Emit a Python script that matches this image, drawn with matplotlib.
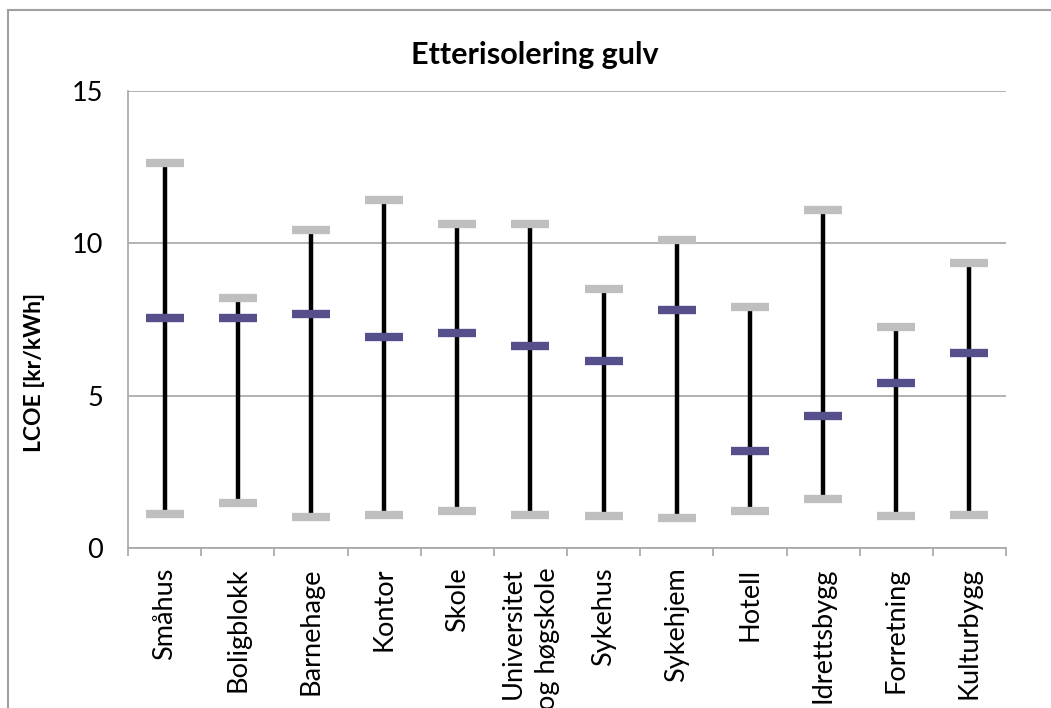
import numpy as np
import matplotlib.pyplot as plt
from matplotlib.patches import Rectangle

plt.rcParams['font.family'] = ['Lato', 'DejaVu Sans']

# LCOE [kr/kWh] per building type
kategorier = ['Småhus', 'Boligblokk', 'Barnehage', 'Kontor', 'Skole',
              'Universitet\nog høgskole', 'Sykehus', 'Sykehjem', 'Hotell',
              'Idrettsbygg', 'Forretning', 'Kulturbygg']
maks = [12.65, 8.2, 10.45, 11.42, 10.62, 10.62, 8.5, 10.1, 7.9, 11.08, 7.25, 9.36]
midt = [7.54, 7.54, 7.67, 6.92, 7.07, 6.62, 6.13, 7.8, 3.18, 4.33, 5.4, 6.39]
mini = [1.1, 1.48, 1.02, 1.08, 1.2, 1.08, 1.04, 0.98, 1.2, 1.6, 1.04, 1.08]

W, H = 1051, 708
fig = plt.figure(figsize=(W / 100, H / 100), dpi=100)
ax = fig.add_axes([128 / W, 1 - 548 / H, (1006 - 128) / W, (548 - 91) / H])

x = np.arange(len(kategorier))
grey = '#a6a6a6'

ax.vlines(x, mini, maks, color='black', lw=3.2, zorder=3)
ax.plot(x, maks, ls='none', marker='_', ms=28, mew=6, color='#bfbfbf', zorder=4)
ax.plot(x, mini, ls='none', marker='_', ms=28, mew=6, color='#bfbfbf', zorder=4)
ax.plot(x, midt, ls='none', marker='_', ms=28, mew=6, color='#554f8c', zorder=5)

ax.set_xlim(-0.5, len(kategorier) - 0.5)
ax.set_ylim(0, 15)
ax.set_yticks([0, 5, 10, 15])
ax.yaxis.grid(True, color=grey, lw=1.2)
ax.set_axisbelow(True)

ax.set_xticks(x)
ax.set_xticklabels(kategorier, rotation=90, fontsize=19.5, multialignment='right',
                   linespacing=1.45)
ax.set_xticks(np.arange(len(kategorier) + 1) - 0.5, minor=True)
ax.tick_params(axis='x', which='major', length=0, pad=14)
ax.tick_params(axis='x', which='minor', length=6, color=grey, width=1.2)
ax.tick_params(axis='y', length=0, pad=18, labelsize=19.5)

for s in ['top', 'right']:
    ax.spines[s].set_visible(False)
for s in ['left', 'bottom']:
    ax.spines[s].set_color(grey)
    ax.spines[s].set_linewidth(1.2)

ax.set_ylabel('LCOE [kr/kWh]', fontsize=16.5, fontweight='bold')
ax.yaxis.set_label_coords((45 - 128) / 878, (548 - 372) / 457)
fig.text(535 / W, 1 - 55 / H, 'Etterisolering gulv', fontsize=22, fontweight='bold',
         ha='center', va='center')

# outer chart frame (cut by the image edge at right and bottom)
fig.patches.append(Rectangle((8 / W, -0.1), 1.2, 1 - 10 / H + 0.1,
                             transform=fig.transFigure, fill=False,
                             edgecolor='#a0a0a0', lw=1.5))

fig.savefig('out.png', dpi=100)
